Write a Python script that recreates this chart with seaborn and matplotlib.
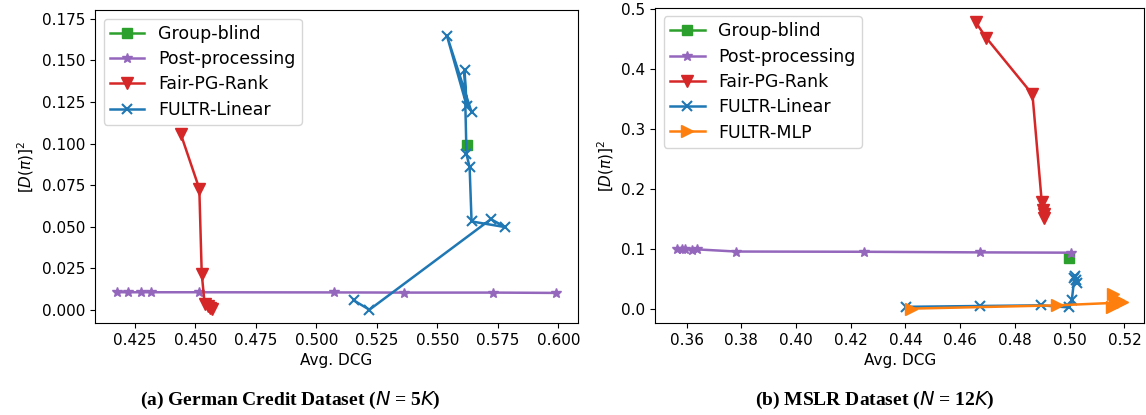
import matplotlib
matplotlib.use("Agg")
import matplotlib.pyplot as plt
import seaborn as sns
import pandas as pd

# ---------------- data: (a) German Credit ----------------
gc_blind_x = [0.5621]
gc_blind_y = [0.0992]
gc_post_x = [0.4176, 0.4220, 0.4275, 0.4316, 0.4516, 0.5071, 0.5362, 0.5730, 0.5990]
gc_post_y = [0.0105, 0.0105, 0.0105, 0.0105, 0.0105, 0.0104, 0.0103, 0.0103, 0.0101]
gc_fair_x = [0.4439, 0.4516, 0.4526, 0.4538, 0.4553, 0.4560, 0.4568]
gc_fair_y = [0.1059, 0.0728, 0.0217, 0.0035, 0.0022, 0.0012, 0.0005]
gc_lin_x = [0.5154, 0.5219, 0.5721, 0.5780, 0.5641, 0.5633, 0.5620, 0.5612, 0.5621, 0.5539, 0.5641]
gc_lin_y = [0.0056, 0.0000, 0.0545, 0.0497, 0.0531, 0.0856, 0.0938, 0.1440, 0.1227, 0.1650, 0.1189]

# ---------------- data: (b) MSLR ----------------
ms_blind_x = [0.4996]
ms_blind_y = [0.0854]
ms_post_x = [0.3566, 0.3584, 0.3596, 0.3621, 0.3639, 0.3781, 0.4250, 0.4674, 0.5004]
ms_post_y = [0.0995, 0.0990, 0.1000, 0.0985, 0.0990, 0.0954, 0.0950, 0.0940, 0.0935]
ms_fair_x = [0.4656, 0.4695, 0.4864, 0.4898, 0.4903, 0.4906, 0.4905]
ms_fair_y = [0.4790, 0.4526, 0.3580, 0.1780, 0.1650, 0.1580, 0.1520]
ms_lin_x = [0.4402, 0.4674, 0.4897, 0.4997, 0.5008, 0.5018, 0.5022, 0.5015, 0.5025]
ms_lin_y = [0.0030, 0.0044, 0.0055, 0.0020, 0.0150, 0.0550, 0.0480, 0.0520, 0.0430]
ms_mlp_x = [0.4421, 0.4955, 0.5180, 0.5155, 0.5176, 0.5157, 0.5165, 0.5190]
ms_mlp_y = [0.0000, 0.0055, 0.0100, 0.0030, 0.0140, 0.0250, 0.0080, 0.0110]

methods = ["Group-blind", "Post-processing", "Fair-PG-Rank", "FULTR-Linear", "FULTR-MLP"]
colors = {"Group-blind": "#2ca02c", "Post-processing": "#9467bd", "Fair-PG-Rank": "#d62728",
          "FULTR-Linear": "#1f77b4", "FULTR-MLP": "#ff7f0e"}
markers = {"Group-blind": "s", "Post-processing": "*", "Fair-PG-Rank": "v",
           "FULTR-Linear": "x", "FULTR-MLP": ">"}
msizes = {"Group-blind": 7, "Post-processing": 7.5, "Fair-PG-Rank": 9,
          "FULTR-Linear": 7.5, "FULTR-MLP": 9}

def frame(pairs):
    rows = []
    for name, xs, ys in pairs:
        for i, (x, y) in enumerate(zip(xs, ys)):
            rows.append({"method": name, "order": i, "dcg": x, "disp": y})
    return pd.DataFrame(rows)

gc = frame([("Group-blind", gc_blind_x, gc_blind_y),
            ("Post-processing", gc_post_x, gc_post_y),
            ("Fair-PG-Rank", gc_fair_x, gc_fair_y),
            ("FULTR-Linear", gc_lin_x, gc_lin_y)])
ms = frame([("Group-blind", ms_blind_x, ms_blind_y),
            ("Post-processing", ms_post_x, ms_post_y),
            ("Fair-PG-Rank", ms_fair_x, ms_fair_y),
            ("FULTR-Linear", ms_lin_x, ms_lin_y),
            ("FULTR-MLP", ms_mlp_x, ms_mlp_y)])

plt.rcParams["font.family"] = ["DejaVu Sans"]
fig = plt.figure(figsize=(11.46, 4.15), dpi=100)
ax1 = fig.add_axes([0.0829, 0.2217, 0.4215, 0.754])
ax2 = fig.add_axes([0.5716, 0.2217, 0.4270, 0.760])

def draw(ax, df):
    for m in methods:
        sub = df[df.method == m]
        if sub.empty:
            continue
        sns.lineplot(data=sub, x="dcg", y="disp", sort=False, estimator=None,
                     marker=markers[m], color=colors[m], markersize=msizes[m],
                     markeredgecolor=colors[m], markeredgewidth=1.5 if m == "FULTR-Linear" else 1.0,
                     linewidth=1.8, label=m, ax=ax)
    ax.set_xlabel("Avg. DCG", fontsize=11)
    ax.set_ylabel(r"$[D(\pi)]^2$", fontsize=11)
    ax.tick_params(labelsize=11)
    ax.legend(loc="upper left", fontsize=12.5, labelspacing=0.42, borderpad=0.35)

draw(ax1, gc)
draw(ax2, ms)
ax1.set_xlim(0.4085, 0.6081)
ax1.set_ylim(-0.0080, 0.1803)
ax2.set_xlim(0.3485, 0.5273)
ax2.set_ylim(-0.024, 0.503)

cap = dict(ha="center", va="center", fontsize=14, fontweight="bold", family="Liberation Serif")
fig.text(290 / 1146, 1 - 400 / 415, r"(a) German Credit Dataset ($N$ = 5$K$)", **cap)
fig.text(875 / 1146, 1 - 400 / 415, r"(b) MSLR Dataset ($N$ = 12$K$)", **cap)

fig.savefig("out.png", dpi=100)
